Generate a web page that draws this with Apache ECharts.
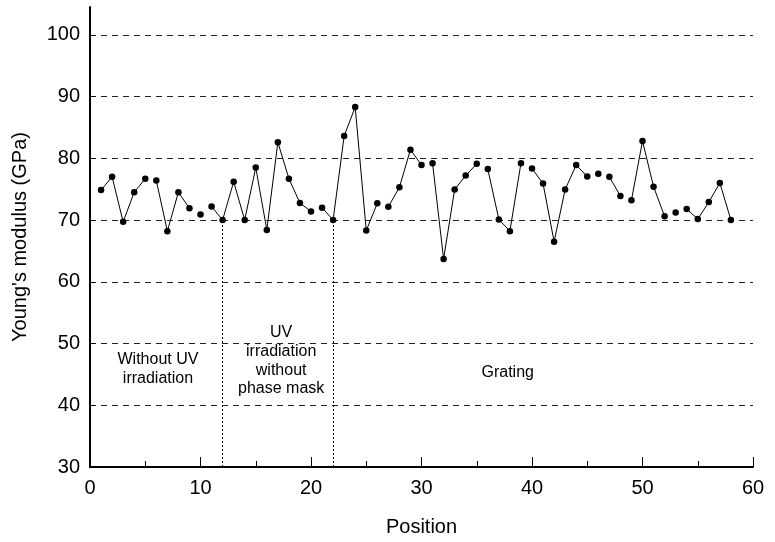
<!DOCTYPE html>
<html>
<head>
<meta charset="utf-8">
<script src="https://cdn.jsdelivr.net/npm/echarts@6/dist/echarts.min.js"></script>
<style>html,body{margin:0;padding:0;background:#fff}#c{width:775px;height:542px}</style>
</head>
<body>
<div id="c"></div>
<script>
// Data
var positions = [];
for (var i = 1; i <= 58; i++) positions.push(i);
var modulus = [74.85, 77.0, 69.7, 74.5, 76.7, 76.4, 68.2, 74.5, 71.9, 70.9,
  72.2, 70.0, 76.2, 70.0, 78.5, 68.4, 82.6, 76.7, 72.75, 71.4,
  72.0, 70.0, 83.6, 88.3, 68.3, 72.7, 72.15, 75.3, 81.4, 78.9,
  79.2, 63.7, 74.95, 77.2, 79.1, 78.25, 70.1, 68.2, 79.2, 78.35,
  75.9, 66.5, 74.95, 78.9, 77.05, 77.5, 77.0, 73.9, 73.2, 82.8,
  75.4, 70.6, 71.2, 71.8, 70.15, 72.9, 76.0, 70.0];
// line breaks after these positions (as drawn in the reference)
var breaksAfter = [5, 9, 10, 20, 26, 30, 35, 39, 45, 46, 48, 52, 53];
var dividerX = [12, 22];
var yTicks = [30, 40, 50, 60, 70, 80, 90, 100];
var regionLabels = ["Without UV\nirradiation", "UV\nirradiation\nwithout\nphase mask", "Grating"];
var regionLabelX = [6.15, 17.3, 37.8];
var regionLabelY = [45.9, 47.2, 45.3];

var pts = positions.map(function (x, i) { return [x, modulus[i]]; });
var runs = [], cur = [];
pts.forEach(function (p) {
  cur.push(p);
  if (breaksAfter.indexOf(p[0]) >= 0) { runs.push(cur); cur = []; }
});
if (cur.length) runs.push(cur);

var FONT = 'Liberation Sans, Arial, Helvetica, sans-serif';
var series = runs.filter(function (r) { return r.length > 1; }).map(function (r) {
  return { type: 'line', data: r, symbol: 'none', silent: true, animation: false,
    lineStyle: { color: '#000', width: 1 }, z: 3 };
});
series.push({
  type: 'scatter', data: pts, symbol: 'circle', symbolSize: 6.5, animation: false,
  itemStyle: { color: '#000', opacity: 1 }, z: 4,
  markLine: {
    silent: true, symbol: ['none', 'none'], animation: false,
    label: { show: false },
    lineStyle: { color: '#000', width: 1, type: [2, 2], opacity: 1 },
    data: dividerX.map(function (x) {
      return [{ coord: [x, 30] }, { coord: [x, modulus[positions.indexOf(x)]] }];
    })
  }
});
series.push({
  type: 'scatter', animation: false, symbolSize: 0, silent: true,
  itemStyle: { opacity: 1 },
  data: regionLabels.map(function (t, i) { return { value: [regionLabelX[i], regionLabelY[i]], name: t }; }),
  label: { show: true, position: 'inside', formatter: function (p) { return p.name; },
    color: '#000', opacity: 1, fontSize: 16, fontFamily: FONT, lineHeight: 18.7, align: 'center', verticalAlign: 'middle' }
});

var chart = echarts.init(document.getElementById('c'), null, { renderer: 'canvas' });
chart.setOption({
  backgroundColor: '#fff',
  animation: false,
  grid: { left: 90, right: 22, top: 7, bottom: 75, containLabel: false },
  xAxis: {
    type: 'value', min: 0, max: 60, interval: 10,
    name: 'Position', nameLocation: 'middle', nameGap: 50,
    nameTextStyle: { fontSize: 20, fontFamily: FONT, color: '#000' },
    axisLine: { show: true, onZero: false, lineStyle: { color: '#000', width: 2 } },
    axisTick: { show: true, inside: true, length: 10, lineStyle: { color: '#000', width: 1 } },
    minorTick: { show: true, splitNumber: 2, length: 6, lineStyle: { color: '#000', width: 1 } },
    axisLabel: { fontSize: 20, fontFamily: FONT, color: '#000', margin: 11 },
    splitLine: { show: false }
  },
  yAxis: {
    type: 'value', min: 30, max: 104.5, interval: 10,
    name: "Young's modulus (GPa)", nameLocation: 'middle', nameGap: 60, nameRotate: 90,
    nameTextStyle: { fontSize: 20, fontFamily: FONT, color: '#000' },
    axisLine: { show: true, onZero: false, lineStyle: { color: '#000', width: 2 } },
    axisTick: { show: true, inside: true, length: 5, customValues: yTicks, lineStyle: { color: '#000', width: 1 } },
    axisLabel: { fontSize: 20, fontFamily: FONT, color: '#000', margin: 10, customValues: yTicks },
    splitLine: { show: true, showMinLine: false, showMaxLine: true,
      lineStyle: { color: '#222', width: 1, type: [6, 5] } }
  },
  series: series
});
</script>
</body>
</html>
